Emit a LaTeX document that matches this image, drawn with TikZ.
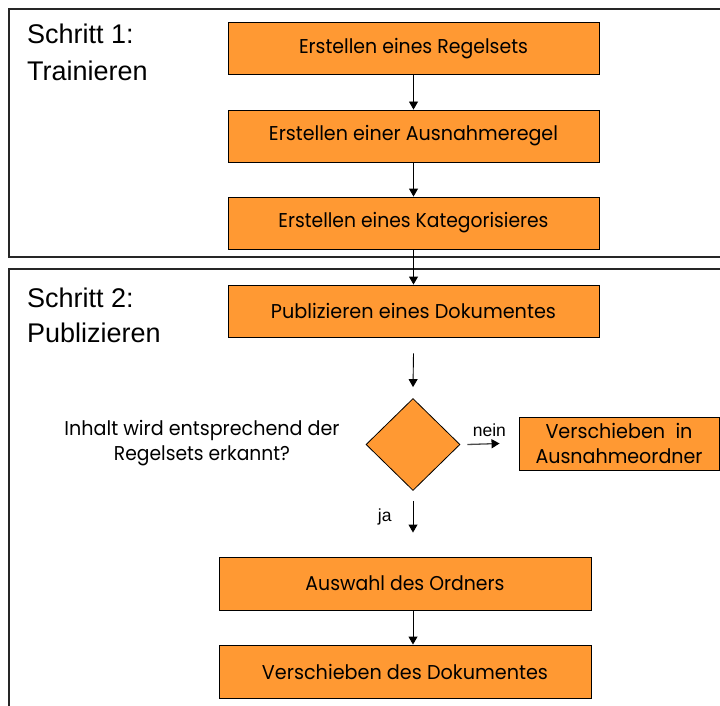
\documentclass[tikz,border=0pt]{standalone}
\usepackage{fontspec}
\usepackage{graphicx}
\setmainfont{Poppins}
\newfontfamily\headfont{Liberation Sans}
\usetikzlibrary{shapes.geometric,arrows.meta}
\definecolor{boxorange}{RGB}{255,153,51}
\newcommand{\fitw}[2]{\resizebox{#1pt}{\height}{#2}}
\begin{document}
\begin{tikzpicture}[x=1pt,y=-1pt,
  procbox/.style={draw=black,line width=0.9pt,fill=boxorange,inner sep=0pt,
    minimum height=52pt,font=\fontsize{20}{25}\selectfont},
  decision/.style={diamond,draw=black,line width=0.8pt,fill=boxorange,inner sep=0pt,
    minimum width=94pt,minimum height=92pt},
  frameline/.style={draw=black!85,line width=1.1pt},
  arr/.style={draw=black,line width=0.9pt,-{Triangle[length=8pt,width=9pt]}},
  steptitle/.style={anchor=base west,inner sep=0pt,font=\headfont\fontsize{27}{37}\selectfont},
  smalllabel/.style={inner sep=0pt,font=\headfont\fontsize{17.5}{20}\selectfont},
  plaintext/.style={inner sep=0pt,align=center,font=\fontsize{20}{25}\selectfont}]
\useasboundingbox (0,0) rectangle (720,706);

% step frames
\draw[frameline] (721,9) -- (9,9) -- (9,257) -- (721,257);
\draw[frameline] (721,269) -- (9,269) -- (9,707);

% step titles
\node[steptitle] (t1a) at (27,44) {Schritt 1:};
\node[steptitle] (t1b) at (27,81) {Trainieren};
\node[steptitle] (t2a) at (27,307) {Schritt 2:};
\node[steptitle] (t2b) at (27,342) {Publizieren};

% step 1
\node[procbox,minimum width=371pt] (b1) at (413.5,48.5) {\fitw{229}{Erstellen eines Regelsets}};
\node[procbox,minimum width=371pt] (b2) at (413.5,136) {\fitw{289}{Erstellen einer Ausnahmeregel}};
\node[procbox,minimum width=371pt] (b3) at (413.5,223) {\fitw{270}{Erstellen eines Kategorisieres}};

% step 2
\node[procbox,minimum width=371pt] (b4) at (413.5,311) {\fitw{285}{Publizieren eines Dokumentes}};
\node[decision] (d) at (413,444.5) {};
\node[plaintext] (q) at (202,443) {\fitw{275}{Inhalt wird entsprechend der}\\\fitw{176}{Regelsets erkannt?}};
\node[procbox,minimum width=200pt,minimum height=53pt,align=center] (b7) at (619,443.5)
  {\fitw{147}{Verschieben\ \ in}\\\fitw{167}{Ausnahmeordner}};
\node[procbox,minimum width=372pt,minimum height=53pt] (b5) at (405,583.5) {\fitw{199}{Auswahl des Ordners}};
\node[procbox,minimum width=372pt,minimum height=53pt] (b6) at (405,671.5) {\fitw{286}{Verschieben des Dokumentes}};

% connectors
\draw[arr] (b1.south) -- (b2.north);
\draw[arr] (b2.south) -- (b3.north);
\draw[arr] (b3.south) -- (b4.north);
\draw[arr] ([yshift=-16pt]b4.south) -- ([yshift=11pt]d.north);
\draw[draw=black!70,line width=1.3pt,-{Triangle[length=8pt,width=9pt,color=black]}]
  ([xshift=7pt]d.east) -- ([xshift=-19pt]b7.west)
  node[smalllabel,pos=0.15,above=7pt,anchor=south west,text=black] (nein) {nein};
\draw[arr] ([yshift=-10pt]d.south) -- ([yshift=24pt]b5.north -| d.south)
  node[smalllabel,midway,left=21pt,anchor=east] (ja) {ja};
\draw[arr] (b5.south -| d.south) -- (b6.north -| d.south);
\end{tikzpicture}
\end{document}
